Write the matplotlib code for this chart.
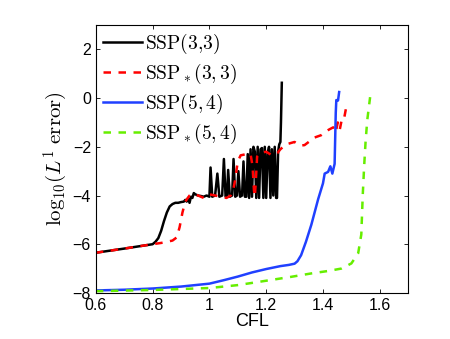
import numpy as np
import matplotlib
matplotlib.use('Agg')
import matplotlib.pyplot as plt

plt.rcParams['mathtext.fontset'] = 'cm'
plt.rcParams['font.family'] = ['Liberation Sans', 'DejaVu Sans']

# SSP(3,3)
cfl_33 = [0.60, 0.70, 0.80, 0.81, 0.82, 0.83, 0.84, 0.85, 0.86, 0.87, 0.88, 0.89,
          0.90, 0.91, 0.915, 0.92, 0.925, 0.93, 0.935, 0.94, 0.945, 0.95, 0.96,
          0.97, 0.98, 0.99, 1.000, 1.004, 1.010, 1.020, 1.028, 1.035, 1.045, 1.051,
          1.057, 1.062, 1.066, 1.072, 1.080, 1.085, 1.091, 1.097, 1.102, 1.108,
          1.115, 1.120, 1.125, 1.130, 1.135, 1.140, 1.145, 1.150, 1.155, 1.160,
          1.165, 1.170, 1.175, 1.180, 1.185, 1.190, 1.195, 1.200, 1.205, 1.210,
          1.215, 1.220, 1.225, 1.230, 1.235, 1.238, 1.242, 1.246, 1.250, 1.252, 1.255]
err_33 = [-6.35, -6.18, -6.00, -5.90, -5.75, -5.45, -5.05, -4.70, -4.45, -4.35, -4.30, -4.30,
          -4.27, -4.25, -4.18, -4.25, -4.10, -4.30, -4.05, -4.10, -3.90, -3.95, -4.00,
          -4.02, -4.05, -4.00, -4.05, -2.85, -4.05, -4.00, -3.10, -4.05, -4.00, -2.50,
          -4.05, -4.00, -2.95, -4.05, -4.00, -2.50, -4.05, -4.00, -3.00, -4.05,
          -4.00, -2.60, -4.05, -4.05, -2.30, -4.10, -2.10, -4.05, -2.00, -2.20,
          -4.10, -2.00, -4.10, -2.10, -2.05, -4.10, -2.00, -4.10, -2.30, -2.00,
          -4.10, -2.10, -4.00, -2.00, -4.10, -4.10, -2.20, -1.90, -1.80, -1.00, 0.63]

# SSP*(3,3)
cfl_33s = [0.60, 0.70, 0.80, 0.84, 0.87, 0.885, 0.895, 0.905, 0.915, 0.93, 0.94, 0.96,
           0.98, 1.00, 1.02, 1.04, 1.06, 1.075, 1.085, 1.09, 1.10, 1.11, 1.13, 1.145,
           1.152, 1.157, 1.160, 1.163, 1.168, 1.18, 1.20, 1.22, 1.24, 1.25, 1.27, 1.30,
           1.32, 1.335, 1.37, 1.394, 1.42, 1.436, 1.445, 1.452, 1.459, 1.465, 1.471,
           1.475, 1.483]
err_33s = [-6.35, -6.18, -6.00, -5.93, -5.85, -5.72, -5.30, -4.70, -4.25, -4.00, -3.93, -4.00,
           -4.10, -3.95, -4.00, -4.05, -4.10, -4.00, -3.70, -3.40, -2.60, -2.35, -2.30, -2.30,
           -2.80, -3.80, -4.05, -3.50, -2.40, -2.25, -2.20, -2.35, -2.25, -2.10, -1.90, -1.80,
           -1.95, -1.93, -1.62, -1.52, -1.30, -1.20, -1.40, -1.00, -1.30, -0.95, -0.97,
           -0.80, -0.30]

# SSP(5,4)
cfl_54 = [0.60, 0.70, 0.80, 0.90, 1.00, 1.05, 1.10, 1.15, 1.20, 1.25, 1.28, 1.30, 1.31,
          1.323, 1.34, 1.359, 1.383, 1.40, 1.406, 1.418, 1.426, 1.433, 1.441, 1.445,
          1.447, 1.453, 1.457]
err_54 = [-7.90, -7.87, -7.82, -7.74, -7.62, -7.48, -7.33, -7.16, -7.02, -6.90, -6.85, -6.80,
          -6.70, -6.45, -5.90, -5.20, -4.15, -3.50, -3.10, -3.03, -2.80, -3.10, -2.70, -0.60,
          -0.08, -0.10, 0.25]

# SSP*(5,4)
cfl_54s = [0.60, 0.80, 1.00, 1.10, 1.20, 1.288, 1.359, 1.418, 1.465, 1.50, 1.524, 1.535,
           1.54, 1.545, 1.55, 1.556, 1.566]
err_54s = [-7.93, -7.88, -7.80, -7.68, -7.50, -7.34, -7.20, -7.10, -7.00, -6.79, -6.37, -5.60,
           -4.00, -2.80, -1.80, -0.90, 0.04]

fig = plt.figure(figsize=(4.5, 3.39), dpi=100)
ax = fig.add_axes([0.213, 0.136, 0.694, 0.790])

ax.plot(cfl_33, err_33, color='black', lw=1.8, label=r'$\mathrm{SSP}(3{,}3)$')
ax.plot(cfl_33s, err_33s, color='#ff0000', lw=1.8, ls=(0, (3, 3)), label=r'$\mathrm{SSP}_*(3,3)$')
ax.plot(cfl_54, err_54, color='#2040ff', lw=1.8, label=r'$\mathrm{SSP}(5,4)$')
ax.plot(cfl_54s, err_54s, color='#66ee00', lw=1.8, ls=(0, (3, 3)), label=r'$\mathrm{SSP}_*(5,4)$')

ax.set_xlim(0.6, 1.7)
ax.set_ylim(-8, 3)
ax.set_xticks([0.6, 0.8, 1, 1.2, 1.4, 1.6])
ax.set_xticklabels(['0.6', '0.8', '1', '1.2', '1.4', '1.6'])
ax.set_yticks([-8, -6, -4, -2, 0, 2])
ax.tick_params(direction='in', top=True, right=True, labelsize=11.5, length=3, width=0.6)
for s in ax.spines.values():
    s.set_linewidth(0.8)

ax.set_xlabel('CFL', fontsize=13, labelpad=0)
ax.set_ylabel(r'$\mathrm{log}_{10}(L^1\ \mathrm{error})$', fontsize=15, labelpad=2)

ax.legend(loc='upper left', frameon=False, fontsize=14, handlelength=2.0,
          handletextpad=0.2, labelspacing=0.3, borderaxespad=0.05, borderpad=0.3)

fig.savefig('out.png', dpi=100)
